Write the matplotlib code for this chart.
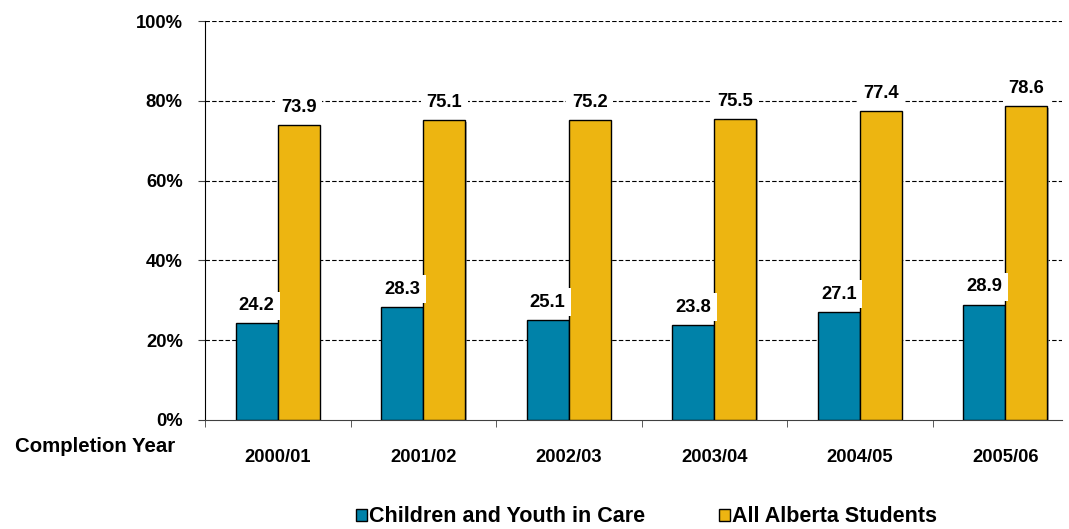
import matplotlib
matplotlib.use("Agg")
import matplotlib.pyplot as plt
import matplotlib.patheffects as pe
from matplotlib import font_manager
import numpy as np

years = ["2000/01", "2001/02", "2002/03", "2003/04", "2004/05", "2005/06"]
in_care = [24.2, 28.3, 25.1, 23.8, 27.1, 28.9]
all_students = [73.9, 75.1, 75.2, 75.5, 77.4, 78.6]
series_names = ["Children and Youth in Care", "All Alberta Students"]
colors = ["#0082A9", "#EDB511"]

# narrow font for numbers if available
names = {f.name for f in font_manager.fontManager.ttflist}
if "Liberation Sans Narrow" in names:
    num_font = "Liberation Sans Narrow"
    num_size = 15
else:
    num_font = "Liberation Sans"
    num_size = 13.2
text_font = "Liberation Sans"

fig = plt.figure(figsize=(10.69, 5.29), dpi=100)
ax = fig.add_axes([205 / 1069, 109 / 529, 857 / 1069, 399 / 529])

x = np.arange(len(years))
w = 0.289
shadow = [pe.SimplePatchShadow(offset=(1.2, -1.2), shadow_rgbFace="#888888", alpha=0.7), pe.Normal()]
b1 = ax.bar(x - w / 2, in_care, w, color=colors[0], edgecolor="black", linewidth=1,
            label=series_names[0], zorder=3, path_effects=shadow)
b2 = ax.bar(x + w / 2, all_students, w, color=colors[1], edgecolor="black", linewidth=1,
            label=series_names[1], zorder=3, path_effects=shadow)

# value labels with white boxes over the gridlines
for bars, vals in [(b1, in_care), (b2, all_students)]:
    for rect, v in zip(bars, vals):
        ax.annotate(f"{v:.1f}", (rect.get_x() + rect.get_width() / 2, v),
                    xytext=(0, 9.5), textcoords="offset points", ha="center", va="baseline",
                    family=num_font, fontsize=num_size, fontweight="bold", zorder=4,
                    bbox=dict(boxstyle="square,pad=0.3", fc="white", ec="none"))

ax.set_ylim(0, 100)
ax.set_xlim(-0.5, 5.39)
ax.set_yticks(np.arange(0, 101, 20))
ax.set_yticklabels([f"{t}%" for t in range(0, 101, 20)], family=num_font,
                   fontsize=num_size, fontweight="bold")
ax.set_xticks(x)
ax.set_xticklabels(years, family=num_font, fontsize=num_size, fontweight="bold")
ax.set_xticks(np.arange(-0.5, 5.0, 1.0), minor=True)
ax.tick_params(axis="x", which="major", length=0, pad=21)
ax.tick_params(axis="x", which="minor", length=5, direction="out", color="#404040")
ax.tick_params(axis="y", length=5, direction="out", pad=11, color="#404040")

for gy in range(20, 101, 20):
    ax.axhline(gy, color="black", linewidth=0.8, linestyle=(0, (4, 2)), zorder=1)

for s in ["top", "right"]:
    ax.spines[s].set_visible(False)
ax.spines["left"].set_color("black")
ax.spines["bottom"].set_color("#404040")

fig.text(175 / 1069, 1 - 447 / 529, "Completion Year", ha="right", va="center",
         family=text_font, fontsize=14.7, fontweight="bold")

leg = fig.legend(handles=[b1, b2], labels=series_names, loc="center",
                 bbox_to_anchor=(646.5 / 1069, 12 / 529), ncol=2, frameon=False,
                 prop=dict(family=text_font, size=15.5, weight="bold"),
                 handlelength=0.52, handleheight=0.52, handletextpad=0.12,
                 columnspacing=3.4, borderpad=0, borderaxespad=0)
for h in leg.legend_handles:
    h.set_path_effects([])

fig.savefig("out.png", dpi=100)
